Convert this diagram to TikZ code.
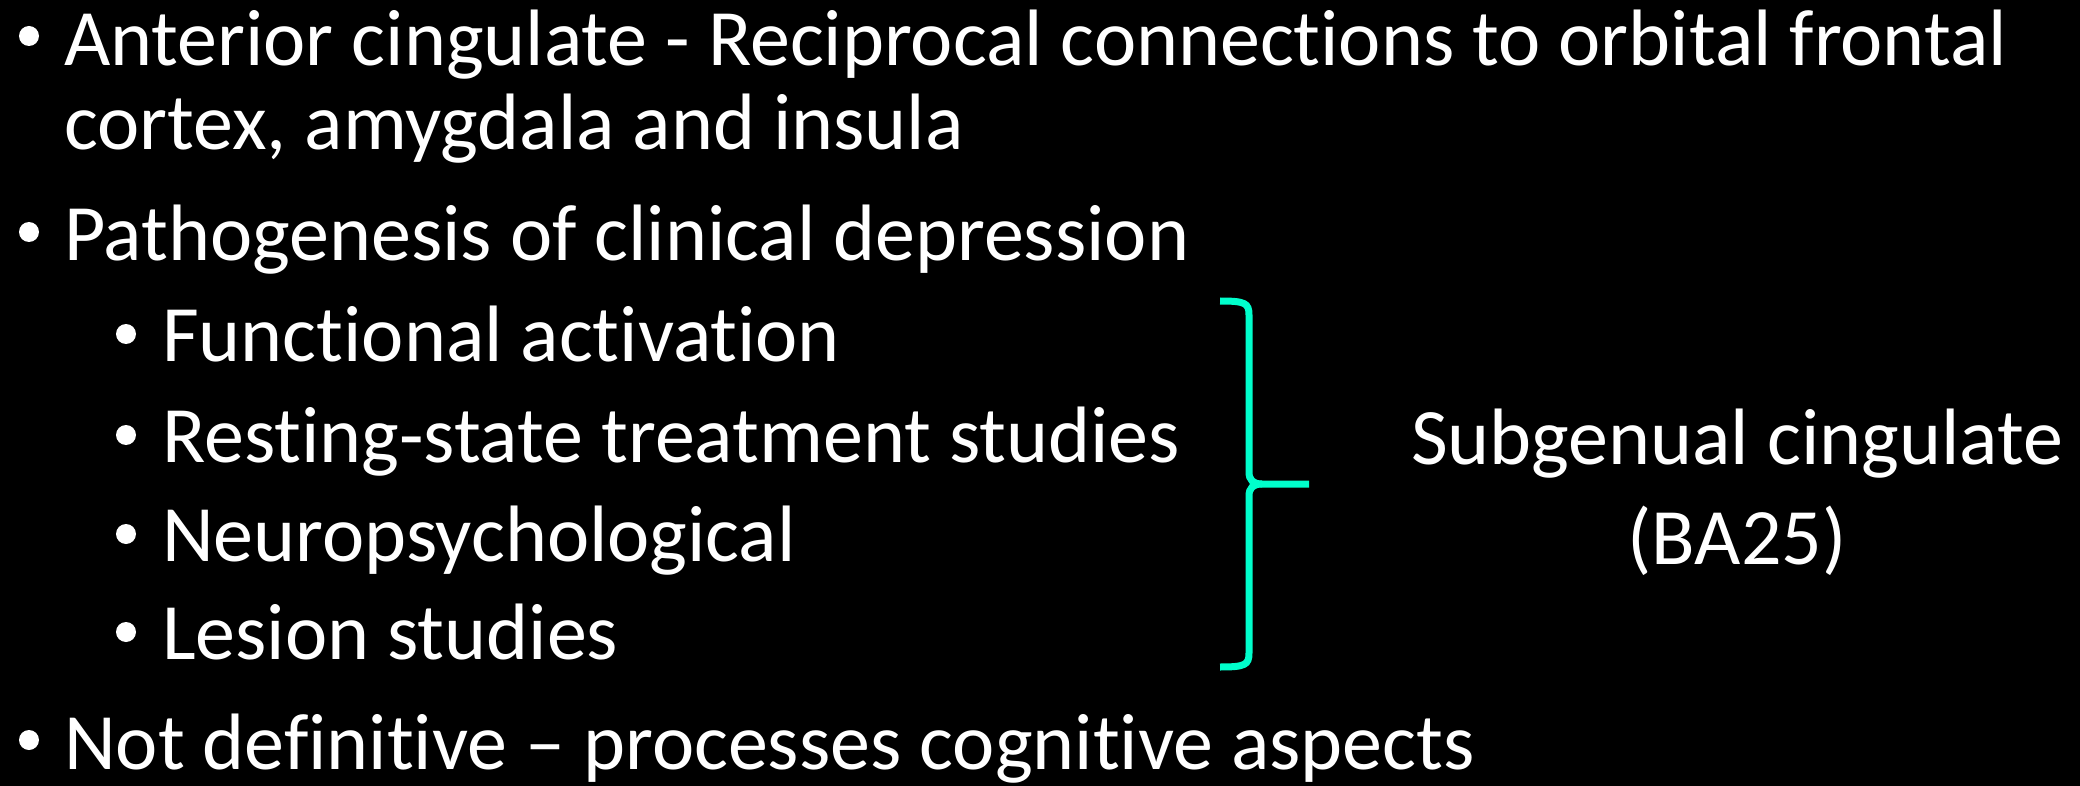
\documentclass[tikz,border=0pt]{standalone}
\usepackage{fontspec}
\setmainfont{Carlito}[Ligatures=NoCommon,RawFeature={-liga;-dlig;-clig}]
\definecolor{bracecol}{RGB}{0,255,204}
\begin{document}
\begin{tikzpicture}[x=1pt,y=-1pt,
  txt/.style={anchor=base west,inner sep=0pt,text=white,font=\fontsize{80}{96}\selectfont},
  ctr/.style={anchor=base,inner sep=0pt,text=white,font=\fontsize{80}{96}\selectfont},
  bul/.style={fill=white,draw=none},
  bracepath/.style={draw=bracecol,line width=7pt,line cap=butt}]
\fill[black] (0,0) rectangle (2080,786);
\useasboundingbox (0,0) rectangle (2080,786);
% level 1
\fill[bul] (29,36) circle[radius=10pt];
\node[txt] (l1) at (64,66) {Anterior cingulate - Reciprocal connections to orbital frontal};
\node[txt] (l2) at (64,150) {cortex, amygdala and insula};
\fill[bul] (29,232) circle[radius=10pt];
\node[txt] (l3) at (64,261) {Pathogenesis of clinical depression};
% level 2
\fill[bul] (126,334) circle[radius=10pt];
\node[txt] (s1) at (162,361) {Functional activation};
\fill[bul] (126,435) circle[radius=10pt];
\node[txt] (s2) at (162,462) {Resting-state treatment studies};
\fill[bul] (126,534) circle[radius=10pt];
\node[txt] (s3) at (162,561) {Neuropsychological};
\fill[bul] (126,632) circle[radius=10pt];
\node[txt] (s4) at (162,659) {Lesion studies};
% last
\fill[bul] (29,740) circle[radius=10pt];
\node[txt] (l4) at (64,769) {Not definitive – processes cognitive aspects};
% brace
\coordinate (btop) at (1220,301);
\coordinate (bbot) at (1220,667);
\coordinate (btip) at (1309,484);
\draw[bracepath] (btop) .. controls (1245,301) and (1249,303) .. (1249,315)
  -- (1249,472) .. controls (1249,480) and (1253,484) .. (1262,484) -- (btip);
\draw[bracepath] (1262,484) .. controls (1253,484) and (1249,488) .. (1249,496)
  -- (1249,653) .. controls (1249,665) and (1245,667) .. (bbot);
% label
\node[ctr] (sg1) at (1737,464) {Subgenual cingulate};
\node[ctr] (sg2) at (1737,564) {(BA25)};
\end{tikzpicture}
\end{document}
